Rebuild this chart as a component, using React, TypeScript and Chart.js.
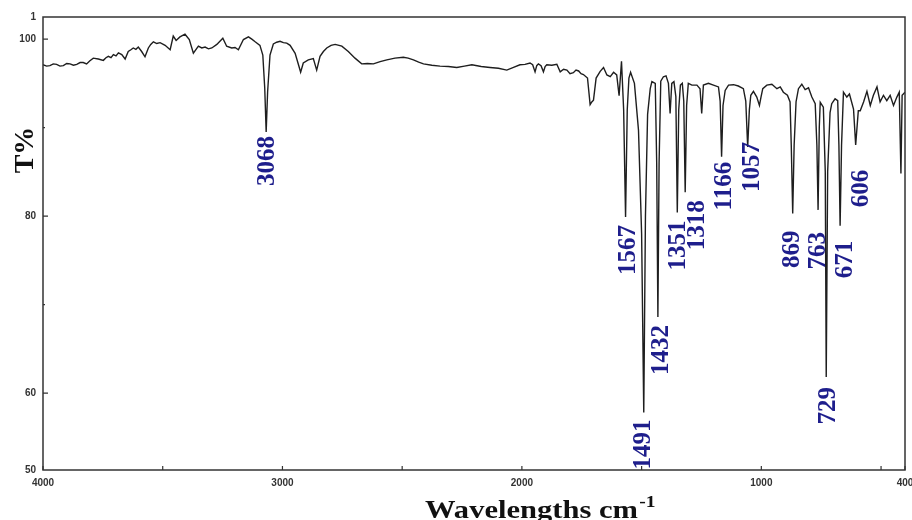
import React, { useEffect, useRef } from "react";
import { Chart, registerables } from "chart.js";

Chart.register(...registerables);

// IR spectrum: wavenumber (cm-1) and transmittance (%)
const wavenumbers = [
  4000, 3985, 3971, 3957, 3943, 3929, 3915, 3901, 3887, 3873, 3859, 3845, 3832, 3818, 3804, 3790,
  3769, 3748, 3737, 3727, 3716, 3706, 3695, 3685, 3671, 3657, 3644, 3633, 3623, 3612, 3602, 3588,
  3574, 3560, 3550, 3539, 3525, 3511, 3490, 3469, 3456, 3444, 3428, 3407, 3389, 3372, 3351, 3337,
  3323, 3309, 3295, 3274, 3249, 3233, 3212, 3198, 3184, 3163, 3142, 3128, 3114, 3094, 3082, 3074,
  3068, 3062, 3052, 3038, 3024, 3010, 2996, 2982, 2968, 2947, 2933, 2924, 2913, 2892, 2871, 2857,
  2843, 2829, 2815, 2797, 2780, 2752, 2725, 2697, 2669, 2645, 2620, 2592, 2564, 2530, 2495, 2475,
  2453, 2431, 2411, 2376, 2342, 2307, 2272, 2240, 2209, 2170, 2133, 2098, 2063, 2035, 2008, 1987,
  1966, 1955, 1945, 1938, 1931, 1920, 1910, 1903, 1896, 1875, 1854, 1840, 1826, 1812, 1799, 1785,
  1774, 1763, 1753, 1743, 1726, 1715, 1708, 1701, 1690, 1673, 1659, 1645, 1631, 1617, 1604, 1594,
  1584, 1575, 1567, 1560, 1553, 1546, 1530, 1513, 1500, 1491, 1484, 1475, 1464, 1457, 1443, 1437,
  1432, 1427, 1420, 1409, 1398, 1388, 1381, 1374, 1365, 1357, 1351, 1345, 1338, 1330, 1324, 1318,
  1312, 1305, 1290, 1269, 1256, 1249, 1242, 1221, 1200, 1179, 1172, 1166, 1160, 1151, 1137, 1116,
  1096, 1075, 1065, 1057, 1050, 1044, 1033, 1019, 1008, 1001, 994, 977, 956, 935, 921, 908,
  891, 880, 875, 869, 863, 855, 845, 831, 817, 803, 789, 775, 768, 763, 758, 754,
  741, 733, 729, 723, 713, 706, 692, 681, 676, 671, 665, 657, 643, 632, 615, 606,
  595, 587, 573, 559, 545, 532, 517, 504, 490, 476, 462, 448, 434, 424, 417, 412,
  400,
];

const transmittance = [
  97.1, 96.95, 97.0, 97.2, 97.15, 96.95, 97.0, 97.25, 97.2, 97.05, 97.15, 97.35, 97.35, 97.2, 97.55, 97.85,
  97.75, 97.6, 97.9, 98.05, 97.9, 98.25, 98.1, 98.45, 98.25, 97.75, 98.6, 98.8, 99.0, 98.85, 99.1, 98.6,
  98.0, 99.0, 99.4, 99.7, 99.5, 99.6, 99.3, 98.8, 100.35, 99.85, 100.25, 100.55, 99.95, 98.4, 99.2, 99.0,
  99.1, 98.9, 99.0, 99.4, 100.1, 99.2, 99.0, 99.05, 98.8, 99.95, 100.25, 100.0, 99.7, 99.3, 98.2, 94.5,
  89.5, 94.0, 98.2, 99.45, 99.65, 99.75, 99.6, 99.55, 99.3, 98.4, 97.1, 96.25, 97.3, 97.65, 97.8, 96.5,
  98.05, 98.6, 99.0, 99.3, 99.4, 99.2, 98.6, 97.85, 97.2, 97.25, 97.2, 97.45, 97.65, 97.85, 97.95, 97.85,
  97.65, 97.4, 97.2, 97.05, 96.95, 96.9, 96.8, 96.95, 97.1, 96.9, 96.8, 96.7, 96.5, 96.8, 97.1, 97.15,
  97.3, 97.1, 96.3, 97.0, 97.2, 97.0, 96.3, 96.9, 97.1, 97.05, 97.15, 96.3, 96.6, 96.5, 96.1, 96.2,
  96.5, 96.4, 96.1, 96.0, 95.6, 92.6, 92.9, 93.1, 95.6, 96.35, 96.8, 95.95, 95.75, 96.25, 95.95, 93.6,
  97.5, 92.0, 79.9, 92.0, 95.6, 96.25, 95.0, 89.7, 78.0, 57.8, 80.0, 91.5, 94.4, 95.2, 95.0, 86.0,
  68.6, 86.0, 95.25, 95.75, 95.85, 95.0, 91.6, 95.0, 95.2, 93.5, 80.4, 92.0, 94.8, 95.0, 93.0, 82.7,
  92.5, 95.0, 94.8, 94.8, 94.4, 91.6, 94.8, 95.0, 94.8, 94.6, 93.0, 86.7, 92.5, 94.2, 94.8, 94.85,
  94.7, 94.4, 93.0, 87.8, 92.0, 93.65, 94.1, 93.45, 92.5, 93.5, 94.4, 94.8, 94.9, 94.4, 94.6, 94.0,
  93.65, 92.9, 88.0, 80.3, 88.0, 92.9, 94.4, 94.9, 94.3, 94.5, 93.45, 92.7, 88.0, 80.7, 90.0, 92.85,
  92.3, 85.0, 61.8, 85.0, 91.7, 92.7, 93.25, 93.05, 88.0, 78.9, 88.0, 94.0, 93.45, 93.8, 92.1, 88.05,
  91.9, 91.9, 92.9, 94.1, 92.5, 93.65, 94.6, 92.9, 93.65, 93.05, 93.65, 92.5, 93.45, 94.0, 84.8, 93.65,
  94.0,
];

const peakWavenumbers = [3068, 1567, 1491, 1432, 1351, 1318, 1166, 1057, 869, 763, 729, 671, 606];
const peakLabels = ["3068", "1567", "1491", "1432", "1351", "1318", "1166", "1057", "869", "763", "729", "671", "606"];

const xTickValues = [4000, 3500, 3000, 2500, 2000, 1500, 1000, 500, 400];
const xTickLabels = ["4000", "", "3000", "", "2000", "", "1000", "", "400"];
const yTickValues = [51.3, 60, 70, 80, 90, 100, 102.5];
const yTickLabels = ["50", "60", "", "80", "", "100", "1"];

// label placement nudges (px) relative to the peak tip: [dx, dy]
const labelNudge: Record<string, [number, number]> = {
  "3068": [1, 4],
  "1567": [3, 8],
  "1491": [0, 7],
  "1432": [4, 8],
  "1351": [1, 8],
  "1318": [12, 8],
  "1166": [3, 5],
  "1057": [5, -5],
  "869": [0, 17],
  "763": [0, 22],
  "729": [2, 10],
  "671": [5, 15],
  "606": [6, 25],
};

const tickFont = { size: 10, weight: "bold" as const, family: "'Liberation Sans', Arial, sans-serif" };

const decorPlugin = {
  id: "decor",
  afterDatasetsDraw(chart: any) {
    const { ctx, chartArea } = chart;
    const xs = chart.scales.x;
    const ys = chart.scales.y;
    const { left, right, top, bottom } = chartArea;
    ctx.save();

    // frame
    ctx.strokeStyle = "#333";
    ctx.lineWidth = 1.5;
    ctx.strokeRect(left, top, right - left, bottom - top);

    // inward tick marks
    ctx.lineWidth = 1.2;
    ctx.beginPath();
    xTickValues.forEach((v) => {
      const px = xs.getPixelForValue(v);
      ctx.moveTo(px, bottom);
      ctx.lineTo(px, bottom - 4);
    });
    [60, 80, 100].forEach((v) => {
      const py = ys.getPixelForValue(v);
      ctx.moveTo(left, py);
      ctx.lineTo(left + 5, py);
    });
    [70, 90].forEach((v) => {
      const py = ys.getPixelForValue(v);
      ctx.moveTo(left, py);
      ctx.lineTo(left + 2, py);
    });
    ctx.stroke();

    // peak labels
    ctx.fillStyle = "#1e1e8c";
    ctx.font = "bold 25px 'Liberation Serif', 'Times New Roman', serif";
    ctx.textAlign = "right";
    ctx.textBaseline = "middle";
    peakWavenumbers.forEach((wn, i) => {
      const idx = wavenumbers.indexOf(wn);
      const t = transmittance[idx];
      const lab = peakLabels[i];
      const [dx, dy] = labelNudge[lab] || [0, 6];
      const x = xs.getPixelForValue(wn) + dx;
      const y = ys.getPixelForValue(t) + dy;
      ctx.save();
      ctx.translate(x, y);
      ctx.rotate(-Math.PI / 2);
      ctx.fillText(lab, 0, 0);
      ctx.restore();
    });

    // y title
    ctx.fillStyle = "#111";
    ctx.font = "bold 28px 'Liberation Serif', 'Times New Roman', serif";
    ctx.textAlign = "center";
    ctx.textBaseline = "alphabetic";
    ctx.save();
    ctx.translate(33, 150);
    ctx.rotate(-Math.PI / 2);
    ctx.fillText("T%", 0, 0);
    ctx.restore();

    // x title
    ctx.font = "bold 25px 'Liberation Serif', 'Times New Roman', serif";
    ctx.textAlign = "left";
    const main = "Wavelengths cm";
    const w = ctx.measureText(main).width;
    const sx = 213 / w;
    ctx.save();
    ctx.translate(425, 518);
    ctx.scale(sx, 1);
    ctx.fillText(main, 0, 0);
    ctx.font = "bold 16px 'Liberation Serif', 'Times New Roman', serif";
    ctx.fillText("-1", w + 1, -11);
    ctx.restore();

    ctx.restore();
  },
};

export default function App() {
  const ref = useRef<HTMLCanvasElement | null>(null);
  useEffect(() => {
    if (!ref.current) return;
    const chart = new Chart(ref.current, {
      type: "line",
      data: {
        datasets: [
          {
            data: wavenumbers.map((x, i) => ({ x, y: transmittance[i] })),
            borderColor: "#1e1e1e",
            borderWidth: 1.4,
            pointRadius: 0,
            tension: 0,
            fill: false,
          },
        ],
      },
      options: {
        animation: false,
        responsive: false,
        devicePixelRatio: 1,
        layout: { padding: { top: 17, right: 7, bottom: 0, left: 0 } },
        plugins: { legend: { display: false }, tooltip: { enabled: false } },
        scales: {
          x: {
            type: "linear",
            reverse: true,
            min: 400,
            max: 4000,
            afterBuildTicks: (s: any) => {
              s.ticks = xTickValues.map((v) => ({ value: v }));
            },
            afterFit: (s: any) => {
              s.height = 50;
              s.paddingLeft = 0;
              s.paddingRight = 0;
            },
            ticks: {
              autoSkip: false,
              maxRotation: 0,
              padding: 7,
              color: "#333",
              font: tickFont,
              callback: (v: any) => {
                const i = xTickValues.indexOf(Number(v));
                return i >= 0 ? xTickLabels[i] : "";
              },
            },
            grid: { display: false, drawTicks: false },
            border: { display: false },
          },
          y: {
            type: "linear",
            min: 51.3,
            max: 102.5,
            afterBuildTicks: (s: any) => {
              s.ticks = yTickValues.map((v) => ({ value: v }));
            },
            afterFit: (s: any) => {
              s.width = 43;
              s.paddingTop = 0;
              s.paddingBottom = 0;
            },
            ticks: {
              autoSkip: false,
              padding: 7,
              color: "#333",
              font: tickFont,
              callback: (v: any) => {
                const i = yTickValues.indexOf(Number(v));
                return i >= 0 ? yTickLabels[i] : "";
              },
            },
            grid: { display: false, drawTicks: false },
            border: { display: false },
          },
        },
      },
      plugins: [decorPlugin],
    });
    return () => chart.destroy();
  }, []);
  return (
    <div style={{ position: "absolute", left: 0, top: 0, width: 912, height: 520, background: "#fff" }}>
      <canvas ref={ref} width={912} height={520} />
    </div>
  );
}
